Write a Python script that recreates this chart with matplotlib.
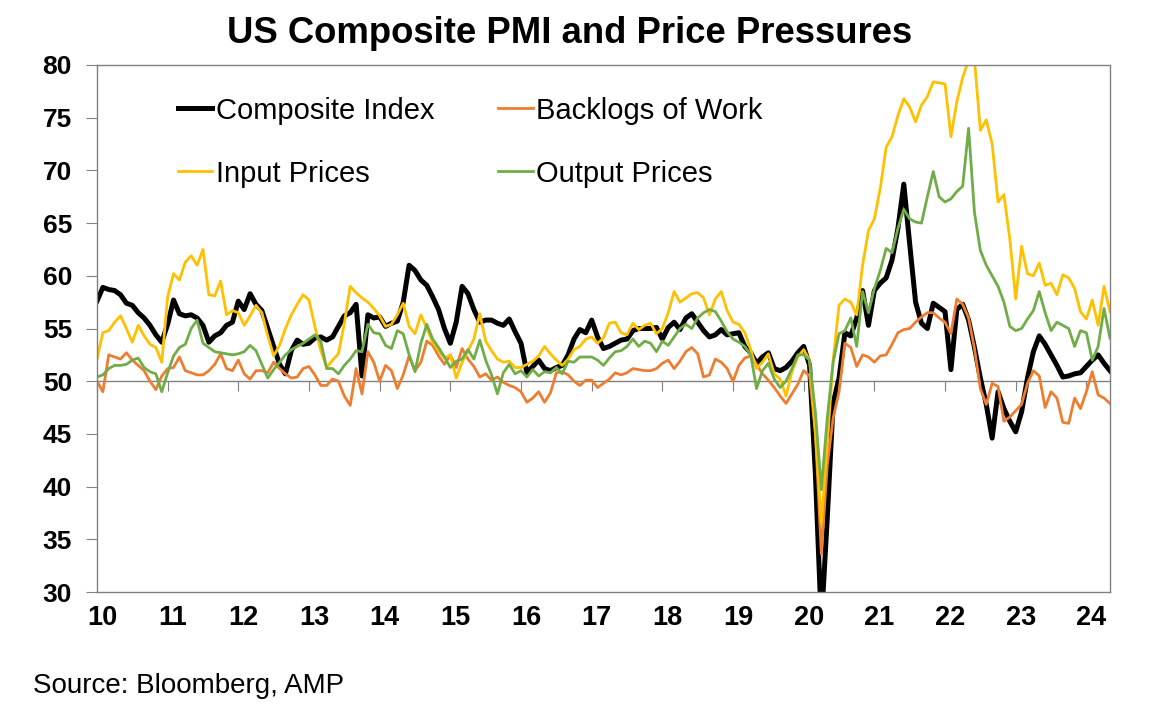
import numpy as np
import matplotlib
matplotlib.use('Agg')
import matplotlib.pyplot as plt
from matplotlib.transforms import ScaledTranslation

plt.rcParams['font.family'] = ['Liberation Sans', 'DejaVu Sans']

# monthly readings, Jan 2010 .. May 2024
composite = [
    57.6, 58.9, 58.7, 58.6, 58.2, 57.4, 57.2, 56.5, 56.0, 55.3, 54.4, 53.7,  # 2010
    55.4, 57.7, 56.4, 56.2, 56.3, 56.0, 55.3, 53.7, 54.3, 54.6, 55.3, 55.6,  # 2011
    57.6, 56.8, 58.3, 57.3, 56.7, 55.0, 53.3, 51.6, 50.7, 52.9, 53.9, 53.5,  # 2012
    53.6, 54.1, 54.2, 53.9, 54.2, 55.2, 56.2, 56.5, 57.3, 50.5, 56.3, 56.0,  # 2013
    56.1, 55.2, 55.5, 55.7, 57.5, 61.0, 60.5, 59.6, 59.1, 58.0, 56.8, 55.0,  # 2014
    53.6, 55.6, 59.0, 58.3, 56.8, 55.6, 55.8, 55.8, 55.5, 55.3, 55.9, 54.7,  # 2015
    53.6, 50.8, 51.4, 52.0, 51.2, 51.0, 51.3, 51.5, 52.5, 54.0, 54.9, 54.6,  # 2016
    55.8, 54.2, 53.1, 53.3, 53.6, 53.9, 54.0, 54.8, 55.0, 55.0, 55.0, 55.1,  # 2017
    54.0, 55.1, 55.6, 54.9, 56.0, 56.4, 55.6, 54.8, 54.2, 54.4, 54.9, 54.4,  # 2018
    54.5, 54.6, 53.3, 52.7, 51.7, 52.3, 52.7, 51.2, 51.0, 51.3, 51.9, 52.7,  # 2019
    53.3, 51.5, 41.0, 27.0, 37.0, 47.9, 50.3, 54.6, 54.3, 56.0, 58.6, 55.3,  # 2020
    58.6, 59.3, 59.8, 61.5, 64.5, 68.7, 63.0, 57.5, 55.5, 55.0, 57.4, 57.0,  # 2021
    56.6, 51.1, 56.8, 57.3, 55.8, 53.2, 50.3, 47.8, 44.6, 49.0, 47.4, 46.2,  # 2022
    45.2, 47.1, 50.3, 52.8, 54.3, 53.5, 52.5, 51.5, 50.4, 50.5, 50.7, 50.8,  # 2023
    51.4, 52.0, 52.5, 51.7, 51.0,                                            # 2024
]

backlogs = [
    50.0, 49.0, 52.5, 52.3, 52.1, 52.7, 52.0, 51.5, 51.0, 50.0, 49.2, 50.5,
    51.2, 51.3, 52.3, 51.0, 50.8, 50.6, 50.6, 51.0, 51.6, 52.6, 51.2, 51.0,
    52.0, 50.7, 50.2, 51.0, 51.0, 50.8, 51.8, 51.2, 50.7, 50.3, 50.4, 51.2,
    51.4, 50.6, 49.6, 49.6, 50.2, 50.0, 48.6, 47.7, 51.2, 48.8, 52.8, 51.8,
    50.0, 51.5, 51.0, 49.3, 50.6, 52.4, 51.0, 51.8, 53.8, 53.4, 52.4, 51.6,
    52.5, 51.3, 53.1, 52.1, 51.4, 50.4, 50.7, 50.1, 50.4, 49.9, 49.6, 49.4,
    49.0, 48.0, 48.4, 49.0, 48.0, 48.9, 50.8, 50.9, 50.6, 50.0, 49.6, 50.1,
    50.1, 49.4, 49.8, 50.2, 50.8, 50.6, 50.8, 51.2, 51.1, 51.0, 51.0, 51.2,
    51.7, 52.0, 51.2, 51.9, 52.8, 53.2, 52.6, 50.4, 50.6, 52.1, 51.8, 51.2,
    50.0, 51.5, 52.2, 52.4, 51.6, 50.7, 50.1, 49.4, 48.6, 47.9, 48.8, 49.7,
    51.0, 50.5, 45.0, 33.6, 42.0, 46.5, 49.0, 53.6, 53.2, 51.4, 52.5, 52.3,
    51.8, 52.4, 52.5, 53.5, 54.6, 54.9, 55.0, 55.6, 56.1, 56.5, 56.5, 56.0,
    55.6, 54.5, 57.8, 57.3, 56.0, 53.1, 49.3, 47.8, 49.8, 49.5, 46.2, 46.6,
    47.2, 47.8, 49.8, 51.0, 50.5, 47.5, 49.0, 48.4, 46.1, 46.0, 48.4, 47.4,
    49.0, 50.9, 48.7, 48.4, 47.9,
]

input_prices = [
    52.1, 54.6, 54.8, 55.6, 56.2, 55.0, 53.7, 55.3, 54.3, 53.5, 53.2, 51.8,
    58.0, 60.2, 59.6, 61.3, 61.9, 61.0, 62.5, 58.2, 58.1, 59.5, 56.3, 56.7,
    56.5, 55.3, 56.2, 57.2, 56.5, 54.3, 52.4, 53.4, 55.0, 56.3, 57.3, 58.2,
    57.7, 55.2, 52.9, 51.3, 52.0, 52.6, 55.5, 59.0, 58.4, 57.9, 57.5, 56.9,
    56.2, 55.2, 55.4, 56.3, 57.4, 55.2, 54.5, 56.3, 55.0, 53.7, 52.9, 52.2,
    52.5, 50.3, 51.8, 52.9, 54.0, 56.4, 53.8, 52.9, 52.1, 51.8, 51.9, 51.3,
    51.3, 51.6, 51.9, 52.4, 53.3, 52.6, 52.0, 51.5, 52.1, 53.0, 53.3, 54.0,
    54.2, 53.6, 54.1, 55.5, 55.6, 54.6, 54.4, 55.5, 54.9, 55.3, 55.5, 54.5,
    55.0, 56.5, 58.5, 57.5, 57.9, 58.3, 58.4, 57.9, 56.3, 57.8, 58.5, 56.7,
    55.6, 55.4, 54.6, 53.0, 51.2, 51.8, 52.6, 50.7, 50.2, 48.6, 50.9, 52.3,
    53.0, 52.0, 45.0, 36.5, 44.0, 52.0, 57.2, 57.8, 57.5, 56.3, 61.0, 64.3,
    65.4, 68.3, 72.2, 73.2, 75.2, 76.8, 76.0, 74.6, 76.2, 77.0, 78.4, 78.3,
    78.2, 73.2, 76.5, 78.8, 80.5, 80.5, 73.8, 74.8, 72.5, 67.0, 67.7, 63.5,
    57.8, 62.8, 60.2, 60.0, 61.2, 59.1, 59.3, 58.2, 60.1, 59.8, 58.8, 56.6,
    55.9, 57.7, 55.3, 59.0, 56.6,
]

output_prices = [
    50.4, 50.6, 51.2, 51.5, 51.5, 51.6, 52.0, 52.2, 51.3, 50.9, 50.7, 49.0,
    50.8, 52.4, 53.2, 53.5, 55.0, 55.8, 53.6, 53.2, 52.8, 52.7, 52.6, 52.5,
    52.6, 52.8, 53.4, 52.9, 51.6, 50.3, 51.1, 51.8, 52.5, 53.0, 53.3, 53.6,
    54.0, 54.4, 53.8, 51.2, 51.2, 50.7, 51.5, 52.1, 52.9, 52.8, 55.4, 54.6,
    54.5, 53.4, 53.1, 54.8, 54.5, 52.5, 50.9, 53.6, 55.4, 54.0, 53.2, 52.3,
    51.3, 51.9, 52.1, 53.0, 52.1, 53.9, 52.0, 50.6, 48.8, 50.8, 51.6, 50.7,
    51.0, 50.4, 51.1, 50.5, 50.9, 50.8, 51.3, 50.7, 51.9, 51.8, 52.3, 52.3,
    52.3, 52.0, 51.5, 52.2, 52.8, 52.9, 53.3, 54.0, 53.3, 53.8, 53.6, 52.8,
    53.8, 53.4, 54.2, 55.0, 55.4, 55.0, 56.0, 56.5, 56.8, 56.6, 55.7, 54.7,
    54.0, 53.7, 53.3, 52.5, 49.3, 51.0, 51.7, 50.2, 49.4, 50.0, 51.2, 52.5,
    52.5, 52.0, 47.0, 39.7, 46.5, 51.8, 54.5, 54.8, 56.0, 53.3, 58.5, 56.5,
    58.8, 60.5, 62.6, 62.2, 64.5, 66.3, 65.4, 65.1, 65.0, 67.5, 69.9, 67.5,
    67.0, 67.3, 68.0, 68.5, 74.0, 66.0, 62.4, 61.0, 60.0, 59.0, 57.5, 55.2,
    54.8, 55.0, 55.9, 56.7, 58.5, 56.5, 54.8, 55.6, 55.3, 55.0, 53.3, 54.8,
    54.6, 52.0, 53.3, 56.9, 54.1,
]

START_YEAR = 2010
YEAR_TICKS = list(range(2010, 2025))
YEAR_LABELS = [f'{y % 100:02d}' for y in YEAR_TICKS]
Y_TICKS = [30, 35, 40, 45, 50, 55, 60, 65, 70, 75, 80]

SERIES = [
    ('Composite Index', composite, '#000000', 3.6),
    ('Backlogs of Work', backlogs, '#ED7D31', 2.0),
    ('Input Prices', input_prices, '#FFC000', 2.0),
    ('Output Prices', output_prices, '#70AD47', 2.0),
]
GREY = '#808080'


def main():
    fig = plt.figure(figsize=(11.49, 7.19), dpi=100)
    ax = fig.add_axes([0.0844, 0.1766, 0.8816, 0.733])

    handles = {}
    for name, vals, col, lw in SERIES:
        x = START_YEAR + np.arange(len(vals)) / 12.0
        h, = ax.plot(x, vals, color=col, linewidth=lw, label=name,
                     solid_joinstyle='round')
        handles[name] = h

    n = len(composite)
    ax.set_xlim(START_YEAR, START_YEAR + (n - 1) / 12.0)
    ax.set_ylim(30, 80)

    for sp in ax.spines.values():
        sp.set_color(GREY)
        sp.set_linewidth(1.0)

    ax.set_yticks(Y_TICKS)
    ax.tick_params(axis='y', direction='out', length=8, color=GREY,
                   labelsize=19, pad=10)
    for lab in ax.get_yticklabels():
        lab.set_fontweight('bold')

    ax.set_xticks(YEAR_TICKS)
    ax.set_xticklabels(YEAR_LABELS)
    ax.tick_params(axis='x', length=0, labelsize=19.5, pad=9)
    shift = ScaledTranslation(5 / 100, 0, fig.dpi_scale_trans)
    for lab in ax.get_xticklabels():
        lab.set_fontweight('bold')
        lab.set_transform(lab.get_transform() + shift)

    # horizontal axis crossing at 50, with its own tick marks
    sec = ax.secondary_xaxis(0.4)
    sec.set_xticks(YEAR_TICKS)
    sec.tick_params(direction='out', length=7, color=GREY,
                    labelbottom=False, labeltop=False)
    for sp in sec.spines.values():
        sp.set_color(GREY)
        sp.set_linewidth(1.0)

    order = ['Composite Index', 'Input Prices', 'Backlogs of Work', 'Output Prices']
    ax.legend([handles[k] for k in order], order, ncol=2,
              loc='upper left', bbox_to_anchor=(0.08, 0.94),
              frameon=False, fontsize=21, handlelength=1.17,
              handletextpad=0.12, columnspacing=2.2, labelspacing=1.2,
              borderpad=0, borderaxespad=0)

    fig.text(0.496, 0.953, 'US Composite PMI and Price Pressures',
             ha='center', va='center', fontsize=26.3, fontweight='bold')
    fig.text(0.029, 0.046, 'Source: Bloomberg, AMP', ha='left',
             va='center', fontsize=20)

    fig.savefig('out.png', dpi=100)


if __name__ == '__main__':
    main()
